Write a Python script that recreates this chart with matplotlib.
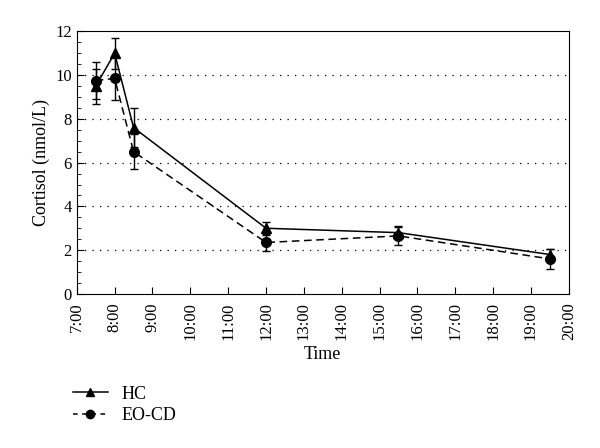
import numpy as np
import matplotlib.pyplot as plt
from matplotlib.ticker import MultipleLocator
from matplotlib.lines import Line2D

plt.rcParams['font.family'] = ['Liberation Serif', 'DejaVu Serif']

# times in hours of the day
times = [7.5, 8.0, 8.5, 12.0, 15.5, 19.5]
hc = [9.5, 11.0, 7.6, 3.0, 2.8, 1.8]
hc_err = [0.8, 0.7, 0.9, 0.3, 0.3, 0.25]
eocd = [9.75, 9.85, 6.5, 2.35, 2.65, 1.6]
eocd_err = [0.85, 1.0, 0.8, 0.4, 0.4, 0.45]
hours = list(range(7, 21))
hour_labels = [f'{h}:00' for h in hours]

dash = (0, (5, 3))

fig = plt.figure(figsize=(6, 4.48), dpi=100)
ax = fig.add_axes([0.128, 0.344, 0.82, 0.586])

ax.errorbar(times, hc, yerr=hc_err, color='black', marker='^', markersize=7,
            linestyle='-', linewidth=1.1, capsize=3, elinewidth=1)
ax.errorbar(times, eocd, yerr=eocd_err, color='black', marker='o', markersize=7,
            linestyle=dash, linewidth=1.1, capsize=3, elinewidth=1)

ax.set_xlim(7, 20)
ax.set_ylim(0, 12)
ax.set_xticks(hours)
ax.set_xticklabels(hour_labels, rotation=90, fontsize=12)
ax.yaxis.set_major_locator(MultipleLocator(2))
ax.yaxis.set_minor_locator(MultipleLocator(0.5))
ax.tick_params(axis='both', direction='in', labelsize=12, length=5)
ax.tick_params(axis='y', which='minor', direction='in', length=3)
ax.tick_params(axis='x', pad=6)
for y in [2, 4, 6, 8, 10]:
    ax.axhline(y, color='black', linestyle=(0, (1, 5)), linewidth=0.9, zorder=0)

ax.set_xlabel('Time', fontsize=13)
ax.set_ylabel('Cortisol (nmol/L)', fontsize=13)

handles = [
    Line2D([], [], color='black', marker='^', markersize=6, linestyle='-', linewidth=1.1),
    Line2D([], [], color='black', marker='o', markersize=6, linestyle=(0, (3, 3)), linewidth=1.1),
]
fig.legend(handles, ['HC', 'EO-CD'], loc='upper left', bbox_to_anchor=(0.11, 0.155),
           frameon=False, fontsize=13, handlelength=1.9, handletextpad=0.8,
           labelspacing=0.25, borderaxespad=0)

fig.savefig('out.png', dpi=100)
